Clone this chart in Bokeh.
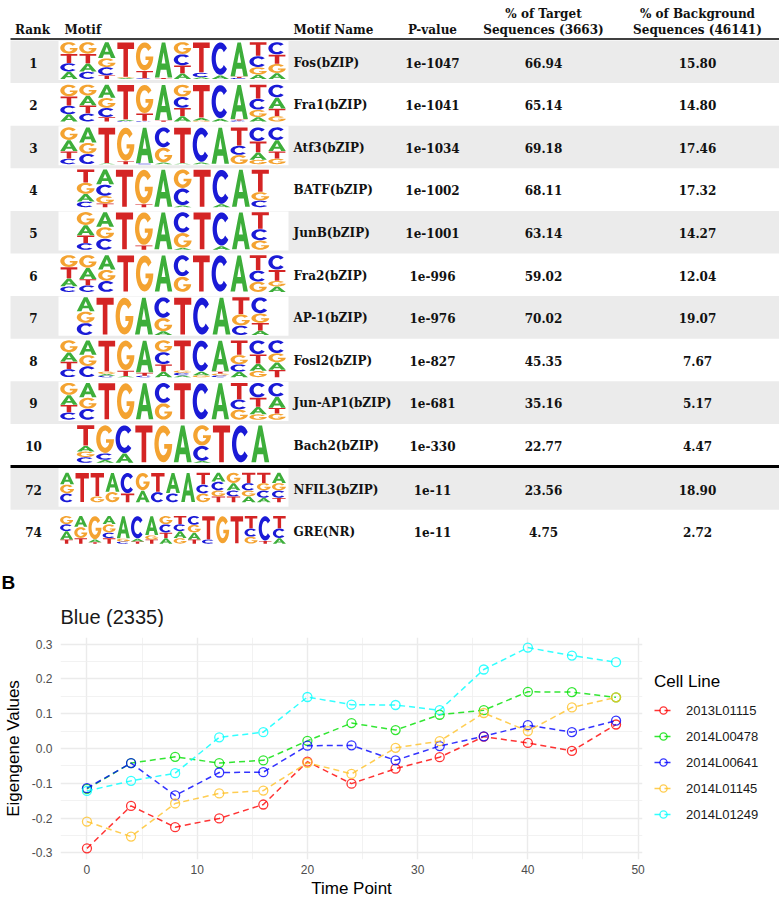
import numpy as np
from bokeh.plotting import figure
from bokeh.models import Range1d, FixedTicker, NumeralTickFormatter, Legend, LegendItem
from bokeh.core.properties import value
from bokeh.embed import file_html
from bokeh.resources import INLINE

# ---------------- table data ----------------
ranks = ["1", "2", "3", "4", "5", "6", "7", "8", "9", "10", "72", "74"]
motif_names = ["Fos(bZIP)", "Fra1(bZIP)", "Atf3(bZIP)", "BATF(bZIP)", "JunB(bZIP)", "Fra2(bZIP)",
               "AP-1(bZIP)", "Fosl2(bZIP)", "Jun-AP1(bZIP)", "Bach2(bZIP)", "NFIL3(bZIP)", "GRE(NR)"]
p_values = ["1e-1047", "1e-1041", "1e-1034", "1e-1002", "1e-1001", "1e-996",
            "1e-976", "1e-827", "1e-681", "1e-330", "1e-11", "1e-11"]
pct_target = [66.94, 65.14, 69.18, 68.11, 63.14, 59.02, 70.02, 45.35, 35.16, 22.77, 23.56, 4.75]
pct_background = [15.80, 14.80, 17.46, 17.32, 14.27, 12.04, 19.07, 7.67, 5.17, 4.47, 18.90, 2.72]
header_labels = ["Rank", "Motif", "Motif Name", "P-value",
                 "% of Target\nSequences (3663)", "% of Background\nSequences (46141)"]

# sequence logo columns: letter + percentage, listed bottom -> top
logo_fos = ["A20 C23 T25 G32", "C20 A22 T26 G32", "T10 C22 G24 A44", "A3 G2 T95", "C2 T20 G78",
            "T3 A97", "A15 T22 C30 G33", "A5 C12 T83", "A10 C90", "C3 T3 A94",
            "A12 G20 C30 T38", "A16 G25 T25 C34"]
logo_fra1 = ["A20 C23 T25 G32", "C22 T22 A26 G30", "T12 C25 G27 A36", "C2 A3 T95", "C2 T20 G78",
             "T3 A97", "A15 T22 C30 G33", "G3 A7 T90", "A8 C92", "C3 T3 A94",
             "A12 G20 C30 T38", "G15 T20 A30 C35"]
logo_atf3 = ["C15 T20 A30 G35", "C28 G30 A42", "A2 T98", "T8 G92", "C2 A98", "A5 G40 C55",
             "A2 T98", "A5 C95", "A100", "G25 C25 T50", "G12 A20 T30 C38", "G15 T20 A30 C35"]
logo_batf = ["C15 A20 G30 T35", "T10 G20 C30 A40", "T100", "T8 G92", "A100", "A5 C45 G50",
             "T100", "A8 C92", "A100", "C18 G22 T60"]
logo_junb = ["C18 T20 A27 G35", "C30 G30 A40", "T100", "T12 G88", "A100", "A5 G40 C55",
             "T100", "A10 C90", "A100", "G25 C30 T45"]
logo_fra2 = ["C15 A22 T30 G33", "C18 T17 A30 G35", "C30 G30 A40", "T100", "G100", "A100",
             "G42 C58", "T100", "C100", "A100", "G28 C30 T42", "A15 G15 T30 C40"]
logo_ap1 = ["C32 G30 A38", "T100", "G100", "A100", "A10 G35 C55", "T100", "C100", "A100",
            "C25 G30 T45", "A12 T20 G25 C43"]
logo_fosl2 = ["C22 T20 A25 G33", "C30 G30 A40", "C4 A5 G6 T85", "A3 T15 G82", "C4 T8 A88",
              "A15 T20 C33 G32", "A5 C7 G6 T82", "G5 A10 C85", "C5 G5 T5 A85",
              "A15 C20 G25 T40", "G17 A20 T25 C38", "T20 A20 G25 C35"]
logo_junap1 = ["C20 T20 A27 G33", "C30 G30 A40", "T100", "G100", "A100", "G45 C55",
               "T100", "C100", "A100", "G28 C27 T45", "G15 A20 T25 C40", "G17 T15 A30 C38"]
logo_bach2 = ["C15 G15 A15 T55", "A8 C17 G75", "A25 C75", "T100", "G100", "A100",
              "A5 C40 G55", "T100", "C100", "A100"]
logo_nfil3 = ["C30 G30 A40", "T100", "G20 T80", "G35 A65", "T30 C70", "A40 G60", "C35 T65",
              "C30 A70", "A100", "G30 C30 T40", "T20 G20 C30 A30", "T20 C20 A25 G35",
              "A20 G20 C25 T35", "A15 C25 G25 T35", "T15 C25 G25 A35"]
logo_gre = ["T15 A30 C25 G30", "T20 G40 A40", "T5 A10 G85", "T20 C20 G30 A30", "C8 G10 A82",
            "T8 A10 C82", "T15 G15 A70", "A20 T20 C30 G30", "G20 A25 C25 T30",
            "T15 A25 G28 C32", "C15 T85", "G100", "T100", "G25 C30 T45", "T10 C90",
            "A20 C35 T45"]
motif_logos = [logo_fos, logo_fra1, logo_atf3, logo_batf, logo_junb, logo_fra2, logo_ap1,
               logo_fosl2, logo_junap1, logo_bach2, logo_nfil3, logo_gre]

# ---------------- chart data ----------------
time_points = [0, 4, 8, 12, 16, 20, 24, 28, 32, 36, 40, 44, 48]
cell_lines = ["2013L01115", "2014L00478", "2014L00641", "2014L01145", "2014L01249"]
eig_2013L01115 = [-0.287, -0.165, -0.226, -0.201, -0.161, -0.038, -0.101, -0.058, -0.025, 0.034, 0.016, -0.007, 0.069]
eig_2014L00478 = [-0.116, -0.042, -0.024, -0.042, -0.034, 0.022, 0.073, 0.053, 0.097, 0.110, 0.163, 0.162, 0.147]
eig_2014L00641 = [-0.114, -0.042, -0.135, -0.069, -0.068, 0.008, 0.009, -0.034, 0.007, 0.035, 0.067, 0.047, 0.080]
eig_2014L01145 = [-0.210, -0.253, -0.158, -0.129, -0.121, -0.041, -0.073, 0.002, 0.021, 0.102, 0.050, 0.118, 0.147]
eig_2014L01249 = [-0.122, -0.093, -0.071, 0.032, 0.047, 0.148, 0.126, 0.125, 0.110, 0.227, 0.290, 0.267, 0.248]
series = [eig_2013L01115, eig_2014L00478, eig_2014L00641, eig_2014L01145, eig_2014L01249]
line_colors = ["#FF0000", "#00E000", "#0000FF", "#FFC125", "#00FFFF"]

# ---------------- styles ----------------
SERIF = value("DejaVu Serif")
SANS = "Liberation Sans"
LETTER_COLORS = {"A": "#3DAE3A", "C": "#1A1AD6", "G": "#F4A331", "T": "#D42424"}


def arc(cx, cy, rx, ry, a0, a1, n=26):
    t = np.radians(np.linspace(a0, a1, n))
    return list(cx + rx * np.cos(t)), list(cy + ry * np.sin(t))


def letter_rings(ch):
    """Letter outline in a unit box (y up): list of rings, first is exterior."""
    if ch == "T":
        return [([0.02, 0.98, 0.98, 0.63, 0.63, 0.37, 0.37, 0.02],
                 [1.0, 1.0, 0.81, 0.81, 0.0, 0.0, 0.81, 0.81])]
    if ch == "A":
        return [([0.0, 0.4, 0.6, 1.0, 0.74, 0.665, 0.335, 0.26],
                 [0.0, 1.0, 1.0, 0.0, 0.0, 0.22, 0.22, 0.0]),
                ([0.39, 0.5, 0.61], [0.40, 0.72, 0.40])]
    if ch == "C":
        ox, oy = arc(0.5, 0.5, 0.5, 0.5, 40, 320)
        ix, iy = arc(0.5, 0.5, 0.26, 0.31, 320, 40)
        return [(ox + ix, oy + iy)]
    # G
    ox, oy = arc(0.5, 0.5, 0.5, 0.5, 38, 360)
    ix, iy = arc(0.5, 0.5, 0.26, 0.31, 335, 38)
    return [(ox + [0.55, 0.55] + ix, oy + [0.5, 0.37] + iy)]


# ---------------- table figure (page pixel coordinates) ----------------
PAGE_W = 779
TABLE_BOTTOM = 627
tbl = figure(width=PAGE_W, height=TABLE_BOTTOM, x_range=Range1d(0, PAGE_W),
             y_range=Range1d(TABLE_BOTTOM, 0), output_backend="svg", toolbar_location=None,
             x_axis_location=None, y_axis_location=None, min_border=0)
tbl.grid.visible = False
tbl.outline_line_color = None

row_h = [42.6] * 10 + [42.3, 42.3]
row_top = [40 + 42.6 * i for i in range(10)] + [467.0, 509.3]
row_mid = [t + 22 for t in row_top]
shaded = [i for i in range(len(ranks)) if i % 2 == 0]

tbl.quad(left=10, right=PAGE_W, top=[row_top[i] for i in shaded],
         bottom=[row_top[i] + row_h[i] for i in shaded], fill_color="#EBEBEB", line_color=None)
# white logo backgrounds
tbl.quad(left=58, right=288, top=[t + 0.5 for t in row_top],
         bottom=[t + h - 3 for t, h in zip(row_top, row_h)], fill_color="white", line_color=None)
tbl.segment(x0=[10], y0=[38.5], x1=[PAGE_W], y1=[38.5], line_color="black", line_width=1.3)
tbl.segment(x0=[10], y0=[466], x1=[PAGE_W], y1=[466], line_color="black", line_width=3)

# headers
col_x = [32, 64, 293, 432, 543, 697]
col_align = ["center", "left", "left", "center", "center", "center"]
hx, hy, ht, ha = [], [], [], []
for lab, x, al in zip(header_labels, col_x, col_align):
    for k, line in enumerate(reversed(lab.split("\n"))):
        hx.append(x); hy.append(29.5 - 16.5 * k); ht.append(line); ha.append(al)
for al in ("left", "center"):
    idx = [i for i in range(len(ht)) if ha[i] == al]
    tbl.text(x=[hx[i] for i in idx], y=[hy[i] for i in idx], text=[ht[i] for i in idx],
             text_font=SERIF, text_font_style="bold", text_font_size="12px",
             text_align=al, text_baseline="alphabetic", text_color="#111111")

# body text
body_style = dict(text_font=SERIF, text_font_style="bold", text_font_size="12px",
                  text_baseline="middle", text_color="#111111")
tbl.text(x=[33] * len(ranks), y=row_mid, text=ranks, text_align="center", **body_style)
tbl.text(x=[293] * len(ranks), y=row_mid, text=motif_names, text_align="left", **body_style)
tbl.text(x=[432] * len(ranks), y=row_mid, text=p_values, text_align="center", **body_style)
tbl.text(x=[543] * len(ranks), y=row_mid, text=["%.2f" % v for v in pct_target],
         text_align="center", **body_style)
tbl.text(x=[697] * len(ranks), y=row_mid, text=["%.2f" % v for v in pct_background],
         text_align="center", **body_style)

# sequence logos
LOGO_CX, MAX_COL_W, MAX_W, ASPECT, MAX_H = 172.5, 19.4, 227.0, 0.51, 38.0
lx, ly, lc = [], [], []
for r, logo in enumerate(motif_logos):
    n = len(logo)
    cw = min(MAX_COL_W, MAX_W / n)
    H = min(MAX_H, cw / ASPECT)
    x_start = LOGO_CX - n * cw / 2
    base = row_mid[r] - 2 + H / 2
    for j, col in enumerate(logo):
        vals = [(tok[0], float(tok[1:])) for tok in col.split()]
        tot = sum(v for _, v in vals)
        cum = 0.0
        for ch, v in vals:
            hgt = v / tot * H
            y0 = base - cum
            cum += hgt
            if hgt < 0.7:
                continue
            x0 = x_start + j * cw + 0.04 * cw
            w = 0.92 * cw
            rings_x, rings_y = [], []
            for ux, uy in letter_rings(ch):
                rings_x.append([x0 + a * w for a in ux])
                rings_y.append([y0 - 0.015 * hgt - b * hgt * 0.97 for b in uy])
            lx.append([rings_x]); ly.append([rings_y]); lc.append(LETTER_COLORS[ch])
tbl.multi_polygons(xs=lx, ys=ly, fill_color=lc, line_color=None)

# panel label and chart title
tbl.text(x=[1], y=[582], text=["B"], text_font=value(SANS), text_font_style="bold",
         text_font_size="19px", text_baseline="middle", text_align="left", text_color="black")
tbl.text(x=[60], y=[616.5], text=["Blue (2335)"], text_font=value(SANS), text_font_style="normal",
         text_font_size="20px", text_baseline="middle", text_align="left", text_color="#1a1a1a")

# ---------------- chart figure ----------------
FRAME_W, FRAME_H = 582, 222
chart = figure(frame_width=FRAME_W, frame_height=FRAME_H, x_range=Range1d(-2.4, 50.4),
               y_range=Range1d(-0.319, 0.319), output_backend="svg", toolbar_location=None,
               min_border_left=60, min_border_top=10, min_border_bottom=40, min_border_right=0)
chart.outline_line_color = None
chart.xaxis.ticker = FixedTicker(ticks=[0, 10, 20, 30, 40, 50], minor_ticks=[5, 15, 25, 35, 45])
chart.yaxis.ticker = FixedTicker(ticks=[-0.3, -0.2, -0.1, 0.0, 0.1, 0.2, 0.3],
                                 minor_ticks=[-0.25, -0.15, -0.05, 0.05, 0.15, 0.25])
chart.yaxis.formatter = NumeralTickFormatter(format="0.0")
for g in (chart.xgrid, chart.ygrid):
    g.grid_line_color = "#EBEBEB"
    g.grid_line_width = 1.4
    g.minor_grid_line_color = "#EFEFEF"
    g.minor_grid_line_width = 0.8
for ax in (chart.xaxis, chart.yaxis):
    ax.axis_line_color = None
    ax.major_tick_line_color = None
    ax.minor_tick_line_color = None
    ax.major_tick_in = 0
    ax.major_tick_out = 0
    ax.minor_tick_in = 0
    ax.minor_tick_out = 0
    ax.major_label_text_font = SANS
    ax.major_label_text_font_size = "12px"
    ax.major_label_text_color = "#4D4D4D"
    ax.axis_label_text_font = SANS
    ax.axis_label_text_font_style = "normal"
    ax.axis_label_text_font_size = "17px"
    ax.axis_label_text_color = "#000000"
chart.xaxis.axis_label = "Time Point"
chart.yaxis.axis_label = "Eigengene Values"
chart.xaxis.major_label_standoff = 5
chart.xaxis.axis_label_standoff = 2
chart.yaxis.major_label_standoff = 8
chart.yaxis.axis_label_standoff = 6

items = []
for name, vals, colr in zip(cell_lines, series, line_colors):
    lr = chart.line(time_points, vals, line_color=colr, line_dash="6 4", line_width=1.5, line_alpha=0.8)
    sr = chart.scatter(time_points, vals, marker="circle", size=9, fill_color=None,
                       line_color=colr, line_width=1.3, line_alpha=0.8)
    items.append(LegendItem(label=name, renderers=[lr, sr]))
legend = Legend(items=items, title="Cell Line", location="center_left")
legend.title_text_font = SANS
legend.title_text_font_style = "normal"
legend.title_text_font_size = "17px"
legend.title_text_color = "#000000"
legend.title_standoff = 8
legend.label_text_font = SANS
legend.label_text_font_size = "13px"
legend.label_text_color = "#1a1a1a"
legend.glyph_width = 18
legend.glyph_height = 20
legend.label_height = 20
legend.spacing = 6
legend.label_standoff = 14
legend.padding = 4
legend.margin = 12
legend.border_line_color = None
legend.background_fill_alpha = 0
chart.add_layout(legend, "right")

open("out.html", "w").write(file_html([tbl, chart], INLINE))
